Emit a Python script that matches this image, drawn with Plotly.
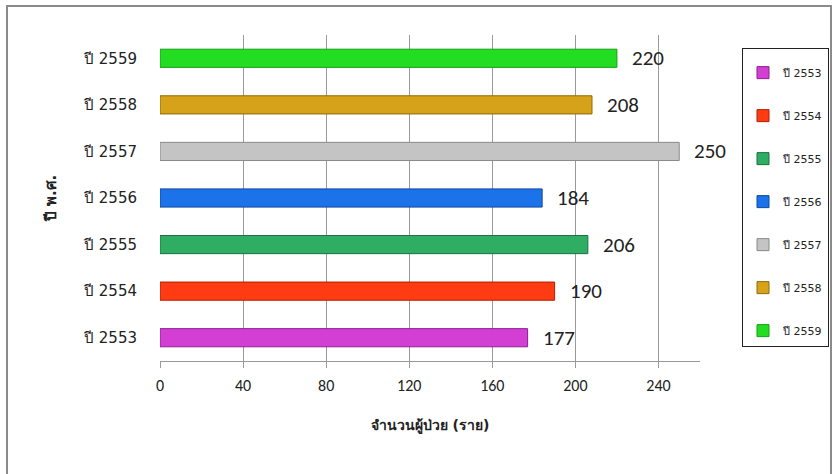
import plotly.graph_objects as go

years = ["ปี 2553", "ปี 2554", "ปี 2555", "ปี 2556", "ปี 2557", "ปี 2558", "ปี 2559"]
patients = [177, 190, 206, 184, 250, 208, 220]
colors = ["#D23FD2", "#FF3B14", "#2FAE63", "#1C72E8", "#C4C4C4", "#D6A21A", "#22DD22"]
edge_colors = ["#8E1E8E", "#B02000", "#1A7040", "#0D4A9E", "#8A8A8A", "#8E6A08", "#14A014"]
x_ticks = [0, 40, 80, 120, 160, 200, 240]

FONT = "'DejaVu Sans', 'Noto Sans', sans-serif"
NUMFONT = "Carlito, 'Open Sans', sans-serif"

fig = go.Figure()
for i, (yr, v) in enumerate(zip(years, patients)):
    fig.add_trace(go.Bar(
        y=[yr], x=[v], orientation="h", name=yr,
        marker=dict(color=colors[i], line=dict(color=edge_colors[i], width=1)),
        width=0.39, legendgroup=yr,
    ))
    fig.add_annotation(x=v, y=yr, text=str(v), showarrow=False,
                       xanchor="left", xshift=13, yshift=0,
                       font=dict(size=21, color="#222", family=NUMFONT))

fig.update_layout(
    width=833, height=474,
    margin=dict(l=160, r=133, t=35, b=113, autoexpand=False),
    paper_bgcolor="white", plot_bgcolor="white",
    barmode="overlay",
    font=dict(family=FONT, color="#222"),
    showlegend=True,
    legend=dict(
        x=1.0778, y=0.960, xanchor="left", yanchor="top",
        bordercolor="#222", borderwidth=1, bgcolor="white",
        font=dict(size=11, color="#222", family=FONT),
        tracegroupgap=24, traceorder="grouped",
        itemwidth=30,
        title=dict(text="\u00a0", font=dict(size=7)),
    ),
    xaxis=dict(
        range=[0, 260], tickvals=x_ticks, showgrid=True, gridcolor="#9a9a9a", gridwidth=1,
        zeroline=False, showline=True, linecolor="#9a9a9a", linewidth=1,
        ticks="outside", ticklen=6, tickcolor="#9a9a9a",
        ticklabelstandoff=4,
        tickfont=dict(size=16, color="#222", family=NUMFONT),
        title=dict(text="<b>จำนวนผู้ป่วย (ราย)</b>", font=dict(size=14, color="#222"), standoff=25),
    ),
    yaxis=dict(
        categoryorder="array", categoryarray=years,
        showgrid=False, zeroline=False, showline=False, ticks="",
        ticklabelstandoff=22,
        tickfont=dict(size=15, color="#222"),
        title=dict(text="<b>ปี พ.ศ.</b>", font=dict(size=15, color="#222"), standoff=22),
    ),
    shapes=[dict(type="rect", xref="paper", yref="paper",
                 x0=-0.2833, x1=1.2426, y0=-0.5, y1=1.089,
                 line=dict(color="#8a8a8a", width=2), layer="below")],
)

fig.write_html("out.html")
